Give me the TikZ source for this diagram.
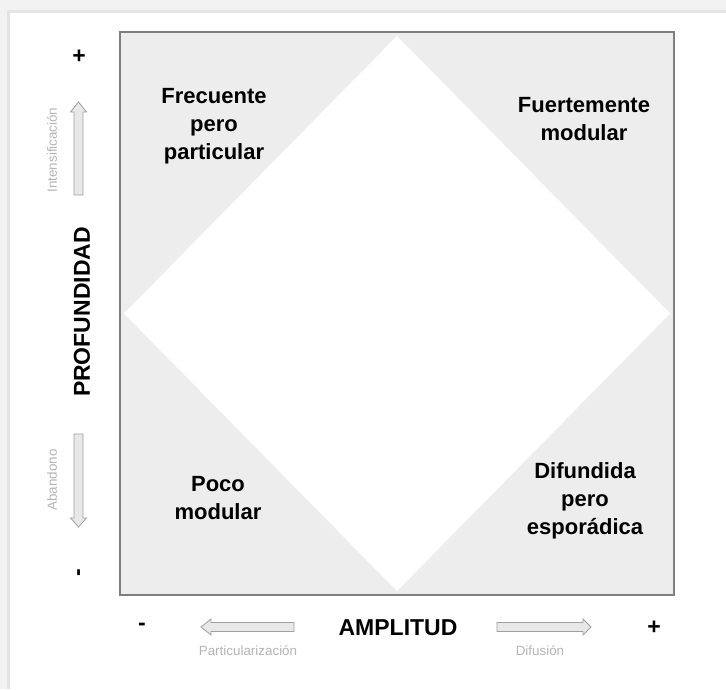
\documentclass[tikz,border=0pt]{standalone}
\usepackage{fontspec}
\setmainfont{Liberation Sans}
\definecolor{pagegray}{HTML}{F2F2F2}
\definecolor{shadowgray}{HTML}{E4E4E4}
\definecolor{quadfill}{HTML}{EDEDED}
\definecolor{framegray}{HTML}{7F7F7F}
\definecolor{hintgray}{HTML}{B5B5B5}
\definecolor{arrowfill}{HTML}{E8E8E8}
\definecolor{arrowline}{HTML}{A0A0A0}
\tikzset{
  quadlabel/.style={font=\fontsize{22}{28}\selectfont\bfseries, align=center, inner sep=0pt, anchor=north},
  axislabel/.style={font=\fontsize{23}{28}\selectfont\bfseries, inner sep=0pt},
  hintlabel/.style={font=\fontsize{13.4}{16}\selectfont, text=hintgray, inner sep=0pt},
  blockarrow/.style={fill=arrowfill, draw=arrowline, line width=0.8pt, line join=miter},
}
\begin{document}
\begin{tikzpicture}[x=1pt,y=-1pt]
\useasboundingbox (0,0) rectangle (726,689);
% page background / card
\fill[pagegray] (0,0) rectangle (726,689);
\fill[shadowgray] (7,10) rectangle (726,689);
\fill[white] (10,13) rectangle (726,689);
% quadrant square and diamond
\filldraw[fill=quadfill, draw=framegray, line width=1.2pt] (120,32) rectangle (674,595);
\fill[white] (397,36) -- (670,313.5) -- (397,591) -- (124,313.5) -- cycle;
% quadrant labels
\node[quadlabel] (q1) at (214,88) {Frecuente\\pero\\particular};
\node[quadlabel] (q2) at (584,97) {Fuertemente\\modular};
\node[quadlabel] (q3) at (218,476) {Poco\\modular};
\node[quadlabel] (q4) at (585,462) {Difundida\\pero\\esporádica};
% vertical axis
\node[axislabel] (plusL) at (79,57) {+};
\node[axislabel, rotate=90] (minusL) at (81,573) {-};
\node[axislabel, rotate=90] (prof) at (82,312) {PROFUNDIDAD};
\node[hintlabel, rotate=90] (intens) at (52,150) {Intensificación};
\node[hintlabel, rotate=90] (aband) at (52,480) {Abandono};
\filldraw[blockarrow] (74,195) -- (74,112) -- (70.5,112) -- (78.5,102) -- (86.5,112) -- (83,112) -- (83,195) -- cycle;
\filldraw[blockarrow] (74,434) -- (74,518) -- (70.5,518) -- (78.5,527) -- (86.5,518) -- (83,518) -- (83,434) -- cycle;
% horizontal axis
\node[axislabel] (minusB) at (142,627) {-};
\node[axislabel] (ampl) at (398,628) {AMPLITUD};
\node[axislabel] (plusB) at (654,628) {+};
\node[hintlabel] (partic) at (248,651) {Particularización};
\node[hintlabel] (difus) at (540,651) {Difusión};
\filldraw[blockarrow] (294,622.5) -- (211,622.5) -- (211,619) -- (201,627) -- (211,635) -- (211,631.5) -- (294,631.5) -- cycle;
\filldraw[blockarrow] (497,622.5) -- (583,622.5) -- (583,619) -- (591,627) -- (583,635) -- (583,631.5) -- (497,631.5) -- cycle;
\end{tikzpicture}
\end{document}
